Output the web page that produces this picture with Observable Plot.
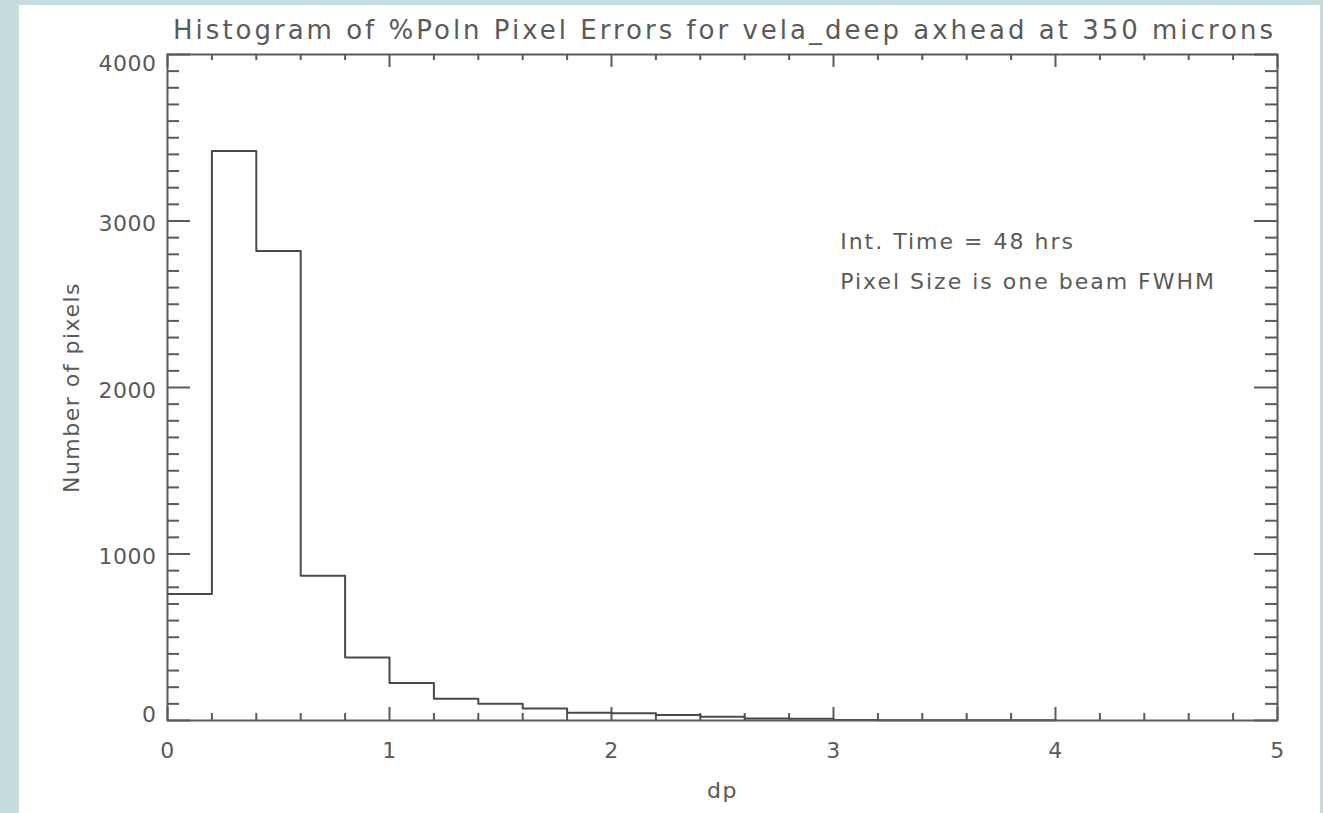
<!DOCTYPE html>
<html><head><meta charset="utf-8">
<script src="https://cdn.jsdelivr.net/npm/d3@7"></script>
<script src="https://cdn.jsdelivr.net/npm/@observablehq/plot@0.6"></script>
<style>
html,body{margin:0;padding:0;background:#c7dddd;width:1323px;height:813px;overflow:hidden;}
#paper{position:absolute;left:19px;top:5px;width:1301px;height:808px;background:#fff;}
#chart{position:absolute;left:0;top:0;}
#chart text{letter-spacing:1.5px;}
#chart [aria-label$="tick label"] text{letter-spacing:0.5px;}
#chart .title text{letter-spacing:3px;}
#chart .notes text{letter-spacing:2px;}
</style></head><body><div id="paper"></div><div id="chart"></div>
<script>
// ---- data ----
const binStart = [0, 0.2, 0.4, 0.6, 0.8, 1.0, 1.2, 1.4, 1.6, 1.8, 2.0, 2.2, 2.4, 2.6, 2.8, 3.0, 3.2, 3.4, 3.6, 3.8];
const counts   = [760, 3420, 2820, 870, 378, 225, 130, 100, 72, 46, 44, 33, 22, 12, 10, 3, 2, 2, 1, 1];
const binWidth = 0.2;
const xMajor = [0, 1, 2, 3, 4, 5];
const yMajor = [0, 1000, 2000, 3000, 4000];
const xMinor = d3.range(0, 5.0001, 0.2).map(v => +v.toFixed(1)).filter(v => !xMajor.includes(v));
const yMinor = d3.range(0, 4001, 100).filter(v => !yMajor.includes(v));
const title = "Histogram of %Poln Pixel Errors for vela_deep axhead at 350 microns";
const xLabel = "dp";
const yLabel = "Number of pixels";
const notes = [
  {x: 3.03, y: 2877, text: "Int. Time = 48 hrs"},
  {x: 3.03, y: 2631, text: "Pixel Size is one beam FWHM"}
];

// step outline points (bin starts plus closing edge)
const steps = binStart.map((x, i) => ({x, y: counts[i]}));
steps.push({x: binStart[binStart.length - 1] + binWidth, y: counts[counts.length - 1]});

const W = 1323, H = 813;
const mL = 167, mR = 46, mT = 54, mB = 93;
const innerW = W - mL - mR, innerH = H - mT - mB;
const ink = "#5a5a5a";

const plot = Plot.plot({
  width: W, height: H,
  marginLeft: mL, marginRight: mR, marginTop: mT, marginBottom: mB,
  style: {background: "transparent", fontFamily: "'DejaVu Sans', sans-serif", fontSize: "22px", color: ink},
  x: {domain: [0, 5]},
  y: {domain: [0, 4000]},
  marks: [
    // ticks (inward, IDL style)
    Plot.ruleY(yMajor, {y: d => d, insetRight: innerW - 23, stroke: ink, strokeWidth: 2}),
    Plot.ruleY(yMajor, {y: d => d, insetLeft: innerW - 23, stroke: ink, strokeWidth: 2}),
    Plot.ruleY(yMinor, {y: d => d, insetRight: innerW - 12, stroke: ink, strokeWidth: 2}),
    Plot.ruleY(yMinor, {y: d => d, insetLeft: innerW - 12, stroke: ink, strokeWidth: 2}),
    Plot.ruleX(xMajor, {x: d => d, insetTop: innerH - 13, stroke: ink, strokeWidth: 2}),
    Plot.ruleX(xMajor, {x: d => d, insetBottom: innerH - 13, stroke: ink, strokeWidth: 2}),
    Plot.ruleX(xMinor, {x: d => d, insetTop: innerH - 7, stroke: ink, strokeWidth: 2}),
    Plot.ruleX(xMinor, {x: d => d, insetBottom: innerH - 6, stroke: ink, strokeWidth: 2}),
    // histogram
    Plot.line(steps, {x: "x", y: "y", curve: "step-after", stroke: "#4a4a4a", strokeWidth: 2}),
    Plot.frame({stroke: ink, strokeWidth: 2}),
    // tick labels
    Plot.axisX({ticks: xMajor, tickSize: 0, tickPadding: 22, tickFormat: d => String(d), label: null}),
    Plot.axisY({ticks: yMajor.filter(v => v > 0 && v < 4000), tickSize: 0, tickPadding: 11, dy: 3, tickFormat: d => String(d), label: null}),
    Plot.axisY({ticks: [4000], tickSize: 0, tickPadding: 11, dy: 9, tickFormat: d => String(d), label: null}),
    Plot.axisY({ticks: [0], tickSize: 0, tickPadding: 11, dy: -6, tickFormat: d => String(d), label: null}),
    // titles
    Plot.text([title], {text: d => d, frameAnchor: "top", textAnchor: "middle", lineAnchor: "middle", dy: -24, dx: 2, fontSize: 26, className: "title"}),
    Plot.text([xLabel], {text: d => d, frameAnchor: "bottom", textAnchor: "middle", lineAnchor: "middle", dy: 70}),
    Plot.text([yLabel], {text: d => d, frameAnchor: "left", textAnchor: "middle", lineAnchor: "middle", rotate: -90, dx: -96}),
    Plot.text(notes, {x: "x", y: "y", text: "text", textAnchor: "start", lineAnchor: "middle", className: "notes"})
  ]
});
document.getElementById("chart").appendChild(plot);
</script>
</body></html>
